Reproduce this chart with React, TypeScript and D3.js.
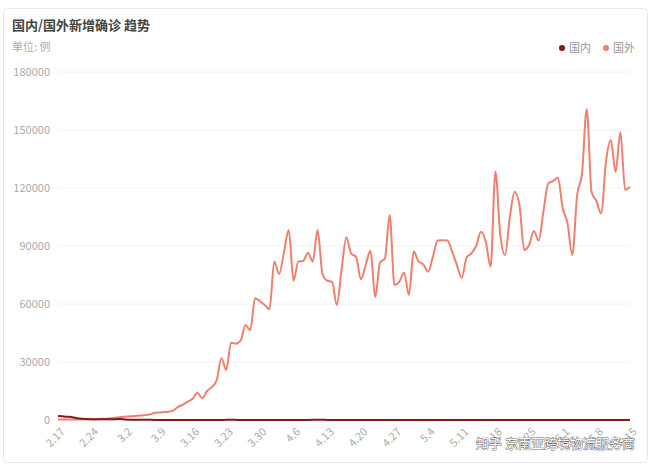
import React from "react";
import * as d3 from "d3";

const TITLE = "国内/国外新增确诊 趋势";
const UNIT = "单位: 例";
const SERIES_NAMES = ["国内", "国外"];
const START_DATE = new Date(2020, 1, 17);
const END_DATE = new Date(2020, 5, 16);
const TICK_LABELS = ["2.17", "2.24", "3.2", "3.9", "3.16", "3.23", "3.30", "4.6", "4.13", "4.20", "4.27", "5.4", "5.11", "5.18", "5.25", "6.1", "6.8", "6.15"];
const Y_TICKS = [0, 30000, 60000, 90000, 120000, 150000, 180000];
const WATERMARK = "知乎 东南亚跨境物流服务商";

const DOMESTIC = [
  2048, 1886, 1700, 1450, 900, 600, 480, 420, 400, 380,
  350, 330, 420, 560, 250, 150, 130, 140, 110, 90,
  50, 40, 25, 20, 15, 12, 15, 20, 25, 15,
  20, 35, 40, 50, 45, 80, 75, 65, 50, 55,
  45, 40, 30, 35, 50, 30, 35, 40, 30, 35,
  40, 50, 45, 65, 100, 90, 50, 40, 30, 25,
  20, 15, 15, 12, 10, 6, 4, 4, 5, 3,
  4, 3, 3, 2, 4, 2, 1, 3, 1, 2,
  3, 5, 15, 5, 8, 7, 5, 4, 3, 5,
  6, 4, 3, 4, 11, 2, 3, 3, 4, 2,
  3, 2, 4, 6, 4, 3, 3, 2, 5, 4,
  3, 4, 6, 2, 10, 20, 30, 50, 40, 35,
];

const FOREIGN = [
  200, 200, 250, 300, 300, 350, 400, 400, 450, 600,
  700, 900, 1200, 1500, 1700, 1900, 2100, 2300, 2500, 2800,
  3600, 3900, 4100, 4300, 5000, 6800, 8000, 9500, 11000, 14100,
  11200, 15000, 17000, 20500, 31900, 25900, 40000, 39500, 41000, 49100,
  46400, 63000, 61500, 59500, 57300, 82000, 75500, 86500, 98300, 72000,
  82000, 82200, 86500, 81900, 98300, 76000, 72000, 71500, 59500, 78000,
  94500, 86000, 84500, 72800, 80000, 87600, 63500, 81500, 83500, 106000,
  69800, 71500, 76200, 64700, 87100, 82000, 80500, 76700, 84500, 92800,
  93000, 92800, 87100, 80000, 73600, 84100, 86200, 90000, 97400, 92200,
  79300, 128400, 96000, 85300, 105000, 118100, 111200, 87900, 90500, 97800,
  92800, 108000, 122400, 123600, 125300, 109500, 101700, 85300, 116400, 127000,
  160900, 118100, 113300, 106900, 133600, 144800, 128400, 148800, 119000, 120700,
];

const COLORS = ["#861a1a", "#ef7f6f"];
const FONT = "'Microsoft YaHei', 'Noto Sans CJK SC', 'Noto Sans', sans-serif";

export default function App() {
  const W = 655;
  const H = 472;
  const fmt = (d: Date) => `${d.getMonth() + 1}.${d.getDate()}`;
  const categories = d3.timeDay.range(START_DATE, END_DATE).map(fmt);

  const x = d3.scalePoint<string>().domain(categories).range([58, 630]);
  const y = d3.scaleLinear().domain([0, 180000]).range([420, 72]);

  const line = d3
    .line<number>()
    .x((_, i) => x(categories[i]) as number)
    .y((v) => y(v))
    .curve(d3.curveMonotoneX);

  return (
    <svg
      width={W}
      height={H}
      style={{ position: "absolute", left: 0, top: 0, background: "#fff" }}
      fontFamily={FONT}
    >
      <rect x={3.5} y={8.5} width={644} height={454} rx={4} fill="#fff" stroke="#e8e8e8" />
      <text x={12} y={30} fontSize={13} fontWeight="bold" fill="#444">{TITLE}</text>
      <text x={12} y={51} fontSize={11} fill="#aaa">{UNIT}</text>

      {/* legend */}
      <g fontSize={11} fill="#999">
        <circle cx={562} cy={48} r={3} fill={COLORS[0]} />
        <text x={569} y={52}>{SERIES_NAMES[0]}</text>
        <circle cx={606} cy={48} r={3} fill={COLORS[1]} />
        <text x={613} y={52}>{SERIES_NAMES[1]}</text>
      </g>

      {/* grid + y labels */}
      {Y_TICKS.map((t) => (
        <g key={t}>
          {t > 0 && <line x1={58} x2={630} y1={y(t)} y2={y(t)} stroke="#f2f2f2" />}
          <text x={50} y={y(t)} dy="0.35em" textAnchor="end" fontSize={11} fill="#aaa">
            {t}
          </text>
        </g>
      ))}
      <line x1={58} x2={630} y1={420} y2={420} stroke="#ddd" />

      {/* x labels */}
      {TICK_LABELS.map((l) => {
        const tx = (x(l) as number) + 4;
        const ty = 429;
        return (
          <text
            key={l}
            x={tx}
            y={ty}
            textAnchor="end"
            dominantBaseline="central"
            fontSize={11}
            fill="#aaa"
            transform={`rotate(-45 ${tx} ${ty})`}
          >
            {l}
          </text>
        );
      })}

      <path d={line(FOREIGN) ?? ""} fill="none" stroke={COLORS[1]} strokeWidth={2} />
      <path d={line(DOMESTIC) ?? ""} fill="none" stroke={COLORS[0]} strokeWidth={2} />

      {/* watermark */}
      <text
        x={476}
        y={448}
        fontSize={13}
        fill="#fff"
        stroke="#666"
        strokeWidth={0.9}
        style={{ paintOrder: "stroke" }}
      >
        {WATERMARK}
      </text>
    </svg>
  );
}
